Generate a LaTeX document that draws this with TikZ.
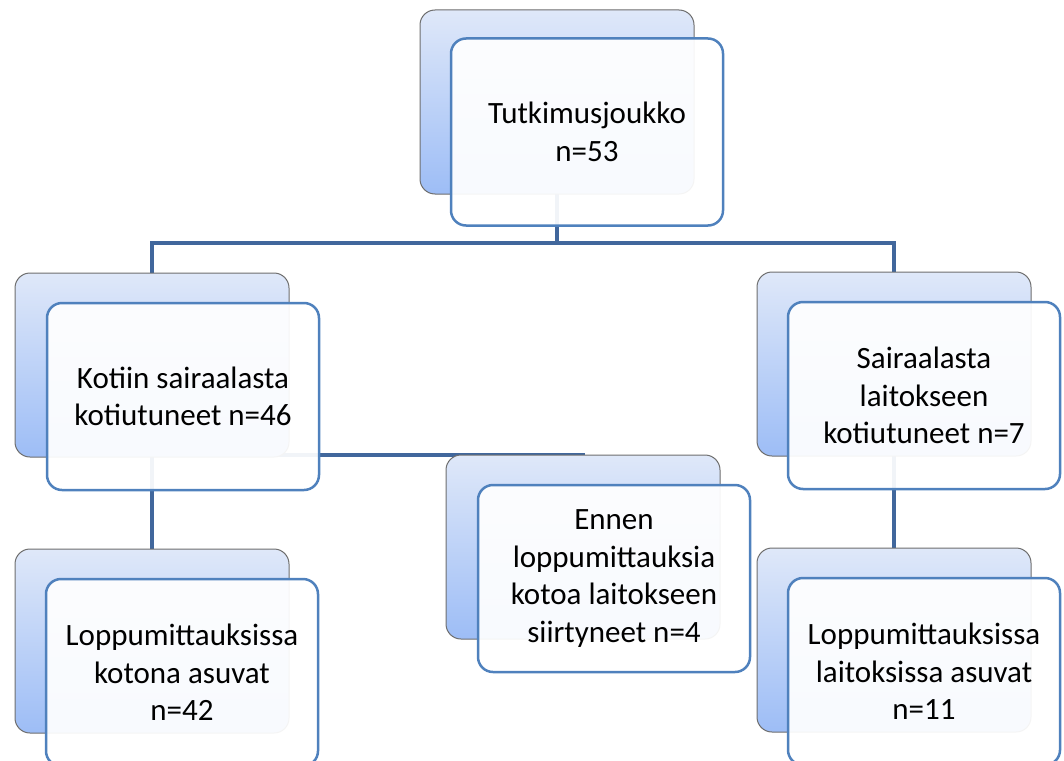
\documentclass[tikz,border=0pt]{standalone}
\usepackage{fontspec}
\setmainfont{Carlito}
\usetikzlibrary{backgrounds}
\definecolor{connblue}{HTML}{41679C}
\definecolor{frontblue}{HTML}{4F81BD}
\definecolor{backtop}{HTML}{DFE8F9}
\definecolor{backbot}{HTML}{9DBDF6}
\definecolor{backedge}{HTML}{6E6E6E}
\begin{document}
\begin{tikzpicture}[x=1pt,y=-1pt,
  backbox/.style={draw=backedge, line width=1pt, rounded corners=15pt,
    top color=backtop, bottom color=backbot,
    minimum width=274pt, minimum height=184pt, inner sep=0pt},
  frontbox/.style={draw=frontblue, line width=2.5pt, rounded corners=15pt,
    fill=white, fill opacity=0.93, text opacity=1, text=black,
    minimum width=272pt, minimum height=187pt, inner sep=0pt, align=center,
    font=\fontsize{31}{37.5}\selectfont},
  conn/.style={draw=connblue, line width=4pt}]
\useasboundingbox (0,0) rectangle (1064,760);
% top
\node[backbox] (b1) at (557,102) {};
\node[frontbox] (f1) at (587,132) {Tutkimusjoukko\\n=53};
% left
\node[backbox] (b2) at (152,365) {};
\node[frontbox] (f2) at (183,396.5) {Kotiin sairaalasta\\kotiutuneet n=46};
% right
\node[backbox] (b3) at (894,364) {};
\node[frontbox] (f3) at (924,395.5) {Sairaalasta\\laitokseen\\kotiutuneet n=7};
% middle
\node[backbox] (b4) at (583,547) {};
\node[frontbox] (f4) at (614,578.5) {Ennen\\loppumittauksia\\kotoa laitokseen\\siirtyneet n=4};
% bottom left
\node[backbox] (b5) at (152,641) {};
\node[frontbox] (f5) at (182,672.5) {Loppumittauksissa\\kotona asuvat\\n=42};
% bottom right
\node[backbox] (b6) at (894,640) {};
\node[frontbox] (f6) at (924,671.5) {Loppumittauksissa\\laitoksissa asuvat\\n=11};
\coordinate (j1) at (557,243);
\begin{pgfonlayer}{background}
\draw[conn] (b1.center) -- (j1) -| (b2.center);
\draw[conn] (j1) -| (b3.center);
\draw[conn] (b2.center) -- (b5.center);
\draw[conn] (b2.center) |- (b4.north) -- (b4.center);
\draw[conn] (b3.center) -- (b6.center);
\end{pgfonlayer}
\end{tikzpicture}
\end{document}
